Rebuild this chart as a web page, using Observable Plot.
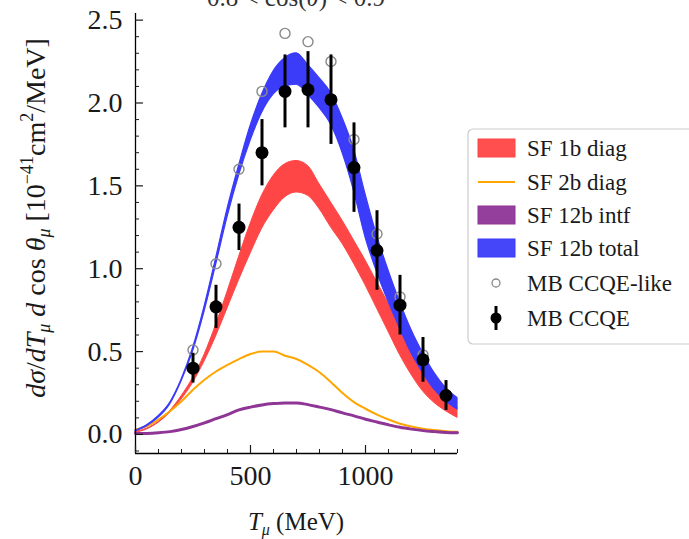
<!DOCTYPE html>
<html><head><meta charset="utf-8">
<script src="https://cdn.jsdelivr.net/npm/d3@7"></script>
<script src="https://cdn.jsdelivr.net/npm/@observablehq/plot@0.6"></script>
<style>
html,body{margin:0;padding:0;background:#fff;overflow:hidden;}
#chart{width:689px;height:539px;position:relative;overflow:hidden;}
</style></head><body><div id="chart"></div>
<script>
// Curve sample points (muon kinetic energy, MeV)
const tGrid = [0,50,100,150,200,250,300,350,400,450,500,550,600,650,700,750,800,850,900,950,1000,1050,1100,1150,1200,1250,1300,1350,1400];
// SF 1b diag band (red)
const oneBodyLo = [0.010,0.030,0.070,0.130,0.210,0.310,0.440,0.590,0.760,0.930,1.090,1.240,1.350,1.430,1.460,1.440,1.360,1.250,1.150,1.030,0.900,0.760,0.620,0.480,0.360,0.260,0.190,0.140,0.100];
const oneBodyHi = [0.015,0.035,0.075,0.140,0.230,0.340,0.480,0.660,0.860,1.070,1.270,1.440,1.560,1.630,1.650,1.620,1.510,1.400,1.290,1.170,1.050,0.920,0.790,0.650,0.520,0.400,0.300,0.220,0.165];
// SF 2b diag (orange line)
const twoBody = [0.030,0.050,0.090,0.140,0.200,0.270,0.330,0.380,0.420,0.455,0.485,0.500,0.500,0.475,0.455,0.420,0.375,0.315,0.250,0.195,0.155,0.120,0.090,0.065,0.048,0.035,0.027,0.020,0.016];
// SF 12b intf (purple)
const interference = [0.005,0.006,0.010,0.017,0.030,0.048,0.070,0.095,0.120,0.148,0.165,0.178,0.186,0.190,0.190,0.180,0.165,0.150,0.130,0.112,0.092,0.075,0.058,0.043,0.032,0.023,0.017,0.012,0.010];
// SF 12b total band (blue)
const totalLo = [0.018,0.050,0.100,0.180,0.320,0.500,0.740,1.020,1.310,1.560,1.770,1.940,2.050,2.100,2.110,2.050,1.970,1.870,1.700,1.470,1.190,0.980,0.800,0.640,0.490,0.370,0.270,0.200,0.150];
const totalHi = [0.022,0.055,0.110,0.190,0.330,0.520,0.770,1.060,1.360,1.620,1.860,2.050,2.190,2.270,2.300,2.230,2.150,2.060,1.910,1.720,1.450,1.200,0.990,0.800,0.630,0.490,0.370,0.280,0.220];

// MiniBooNE data
const mbT = [250,350,450,550,650,750,850,950,1050,1150,1250,1350];
const ccqe = [0.40,0.77,1.25,1.70,2.07,2.08,2.02,1.61,1.11,0.78,0.45,0.235];
const ccqeErr = [0.09,0.13,0.14,0.20,0.22,0.23,0.27,0.27,0.24,0.18,0.135,0.09];
const ccqeLike = [0.51,1.03,1.60,2.07,2.42,2.37,2.25,1.78,1.21,0.83,0.48,0.24];

// Axis settings
const xDomain = [0, 1400];
const yDomain = [-0.115, 2.54];
const xMajor = [0, 500, 1000];
const xMinor = [100,200,300,400,600,700,800,900,1100,1200,1300,1400];
const yMajor = [0, 0.5, 1.0, 1.5, 2.0, 2.5];
const yMinor = [-0.1,0.1,0.2,0.3,0.4,0.6,0.7,0.8,0.9,1.1,1.2,1.3,1.4,1.6,1.7,1.8,1.9,2.1,2.2,2.3,2.4];

const colors = {one:"#ff4646", two:"#ffa500", intf:"#8e3596", total:"#3b3bfa"};
const FONT = "Liberation Serif, DejaVu Serif, serif";

const curves = tGrid.map((t,i) => ({t, oneLo: oneBodyLo[i], oneHi: oneBodyHi[i], two: twoBody[i], intf: interference[i], totLo: totalLo[i], totHi: totalHi[i]}));
const points = mbT.map((t,i) => ({t, y: ccqe[i], lo: ccqe[i]-ccqeErr[i], hi: ccqe[i]+ccqeErr[i], like: ccqeLike[i]}));

const blank = () => "";
const chart = Plot.plot({
  width: 689, height: 539,
  marginLeft: 135, marginRight: 232, marginTop: 13, marginBottom: 86,
  style: {fontFamily: FONT, color: "#1a1a1a", background: "#fff", overflow: "visible"},
  x: {domain: xDomain},
  y: {domain: yDomain},
  marks: [
    Plot.areaY(curves, {x:"t", y1:"oneLo", y2:"oneHi", fill: colors.one, stroke: colors.one, strokeWidth: 1, curve: "monotone-x"}),
    Plot.lineY(curves, {x:"t", y:"two", stroke: colors.two, strokeWidth: 2, curve: "monotone-x"}),
    Plot.lineY(curves, {x:"t", y:"intf", stroke: colors.intf, strokeWidth: 3, curve: "monotone-x"}),
    Plot.areaY(curves, {x:"t", y1:"totLo", y2:"totHi", fill: colors.total, stroke: colors.total, strokeWidth: 1.2, curve: "monotone-x"}),
    Plot.dot(points, {x:"t", y:"like", r: 5, stroke: "#8a8a8a", strokeWidth: 1.4, fill: "none"}),
    Plot.ruleX(points, {x:"t", y1:"lo", y2:"hi", stroke: "#000", strokeWidth: 3}),
    Plot.dot(points, {x:"t", y:"y", r: 6.5, fill: "#000"}),
    Plot.ruleX([xDomain[0]], {stroke:"#000", strokeWidth: 1.3}),
    Plot.ruleY([yDomain[0]], {stroke:"#000", strokeWidth: 1.3}),
    Plot.axisY({ticks: yMajor, tickSize: -8, tickFormat: blank, label: null, strokeWidth: 1.2}),
    Plot.axisY({ticks: yMinor, tickSize: -4, tickFormat: blank, label: null, strokeWidth: 1}),
    Plot.axisY({ticks: yMajor, tickSize: 0, tickPadding: 13, tickFormat: d => d.toFixed(1), label: null, fontSize: 28}),
    Plot.axisX({ticks: xMajor, tickSize: -8, tickFormat: blank, label: null, strokeWidth: 1.2}),
    Plot.axisX({ticks: xMinor, tickSize: -4, tickFormat: blank, label: null, strokeWidth: 1}),
    Plot.axisX({ticks: xMajor, tickSize: 0, tickPadding: 12, tickFormat: d => String(d), label: null, fontSize: 28})
  ]
});
document.getElementById("chart").append(chart);

const svg = d3.select(chart);
// Title (cut off at top in reference)
svg.append("text").attr("x", 296).attr("y", 6).attr("text-anchor","middle")
  .attr("font-family", FONT).attr("font-size", 25).attr("fill","#333")
  .html('0.8 &lt; cos(<tspan font-style="italic">θ</tspan>) &lt; 0.9');

// X label
svg.append("text").attr("x", 296).attr("y", 530).attr("text-anchor","middle")
  .attr("font-family", FONT).attr("font-size", 25).attr("fill","#1a1a1a")
  .html('<tspan font-style="italic">T</tspan><tspan font-style="italic" font-size="16" dy="5">μ</tspan><tspan dy="-5"> (MeV)</tspan>');

// Y label
svg.append("text").attr("transform","translate(45,218) rotate(-90)").attr("text-anchor","middle")
  .attr("font-family", FONT).attr("font-size", 28).attr("fill","#1a1a1a")
  .html('<tspan font-style="italic">dσ</tspan><tspan>/</tspan><tspan font-style="italic">dT</tspan><tspan font-style="italic" font-size="18" dy="5">μ</tspan><tspan font-style="italic" dy="-5"> d</tspan><tspan> cos </tspan><tspan font-style="italic">θ</tspan><tspan font-style="italic" font-size="18" dy="5">μ</tspan><tspan dy="-5"> [10</tspan><tspan font-size="18" dy="-12">−41</tspan><tspan dy="12">cm</tspan><tspan font-size="18" dy="-12">2</tspan><tspan dy="12">/MeV]</tspan>');

// Legend
const lg = svg.append("g").attr("transform","translate(468,129)");
lg.append("rect").attr("x",0).attr("y",0).attr("width",260).attr("height",215).attr("rx",5)
  .attr("fill","#fff").attr("fill-opacity",0.85).attr("stroke","#cccccc").attr("stroke-width",1.2);
const legendItems = [
  {label:"SF 1b diag", kind:"patch", color: colors.one},
  {label:"SF 2b diag", kind:"line", color: colors.two},
  {label:"SF 12b intf", kind:"patch", color: colors.intf},
  {label:"SF 12b total", kind:"patch", color: colors.total},
  {label:"MB CCQE-like", kind:"open"},
  {label:"MB CCQE", kind:"err"}
];
const rowY = [19, 53, 86, 119, 154, 189];
legendItems.forEach((it, i) => {
  const y = rowY[i];
  if (it.kind === "patch") {
    lg.append("rect").attr("x",10).attr("y",y-9).attr("width",37).attr("height",18)
      .attr("fill", it.color).attr("fill-opacity", 0.95).attr("stroke", it.color).attr("stroke-width",1);
  } else if (it.kind === "line") {
    lg.append("line").attr("x1",10).attr("x2",47).attr("y1",y).attr("y2",y).attr("stroke", it.color).attr("stroke-width",2);
  } else if (it.kind === "open") {
    lg.append("circle").attr("cx",28).attr("cy",y).attr("r",4).attr("fill","none").attr("stroke","#8a8a8a").attr("stroke-width",1.3);
  } else {
    lg.append("line").attr("x1",28).attr("x2",28).attr("y1",y-12).attr("y2",y+12).attr("stroke","#000").attr("stroke-width",3);
    lg.append("circle").attr("cx",28).attr("cy",y).attr("r",5.5).attr("fill","#000");
  }
  lg.append("text").attr("x",59).attr("y",y).attr("dy","0.35em").attr("text-anchor","start")
    .attr("font-family", FONT).attr("font-size", 23).attr("fill","#1a1a1a").text(it.label);
});
</script>
</body></html>
